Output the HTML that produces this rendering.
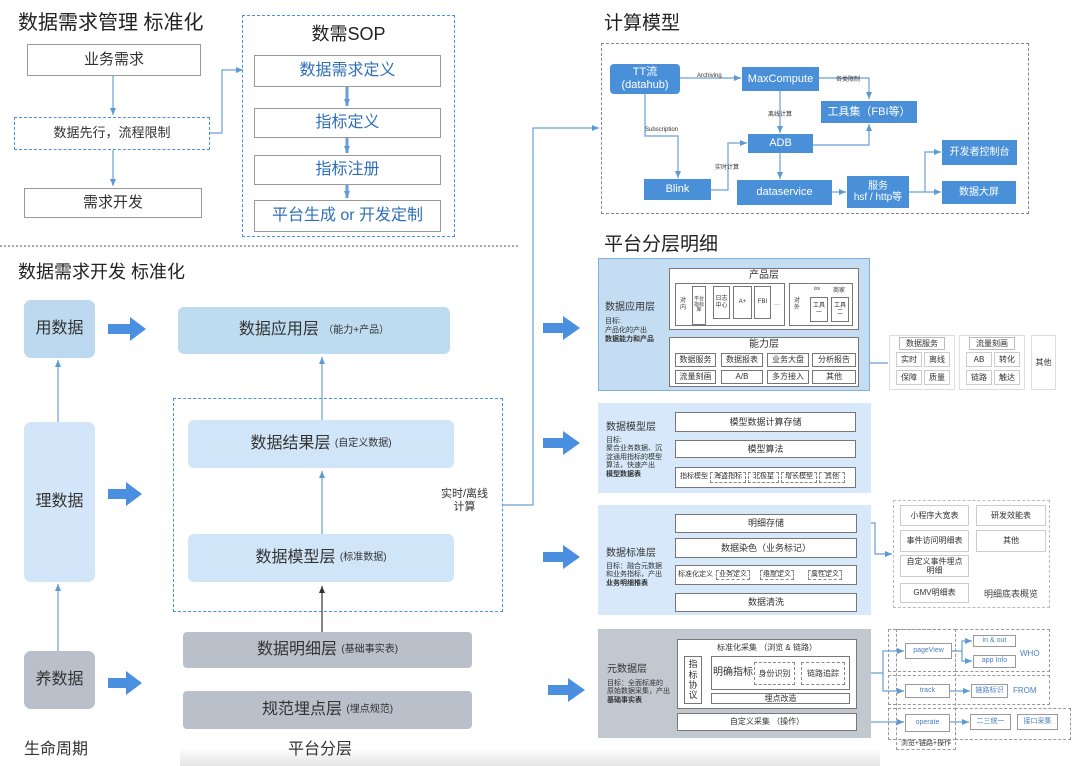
<!DOCTYPE html>
<html><head><meta charset="utf-8"><style>
*{margin:0;padding:0;box-sizing:border-box}
body{width:1080px;height:766px;background:#fff;position:relative;overflow:hidden;font-family:"Liberation Sans","Noto Sans CJK SC",sans-serif;color:#333}
.b{position:absolute;display:flex;align-items:center;justify-content:center;text-align:center;line-height:1.15}
.t{position:absolute;white-space:nowrap}
.g{border:1px solid #999;background:#fff}
.bl{background:#4a90d9;color:#fff;font-size:11px}
.w{background:#fff;border:1px solid #777;font-size:9px;color:#333}
.d{border:1px dashed #888}
svg{position:absolute;left:0;top:0}
</style></head><body>
<div style="position:absolute;left:180px;top:748px;width:700px;height:18px;background:linear-gradient(#fff,#e4e4e4);"></div>
<svg width="1080" height="766">
<defs>
<marker id="a" markerWidth="8" markerHeight="8" refX="7" refY="4" orient="auto" markerUnits="userSpaceOnUse"><path d="M0,1 L7,4 L0,7z" fill="#5b9bd5"/></marker>
<marker id="k" markerWidth="8" markerHeight="8" refX="7" refY="4" orient="auto" markerUnits="userSpaceOnUse"><path d="M0,1 L7,4 L0,7z" fill="#333"/></marker>
</defs>
<g stroke="#6a9fd8" stroke-width="1.2" fill="none">
<path d="M113 76V115" marker-end="url(#a)"/>
<path d="M113 150V186" marker-end="url(#a)"/>
<path d="M210 133H222V70H243" marker-end="url(#a)"/>
<path d="M347 87V106" stroke-width="3" marker-end="url(#a)"/>
<path d="M347 138V153" stroke-width="3" marker-end="url(#a)"/>
<path d="M347 185V198" stroke-width="3" marker-end="url(#a)"/>
<path d="M58 422V360" marker-end="url(#a)"/>
<path d="M58 651V584" marker-end="url(#a)"/>
<path d="M322 420V357" marker-end="url(#a)"/>
<path d="M322 534V471" marker-end="url(#a)"/>
<path d="M503 505H533V128H599" marker-end="url(#a)"/>
<path d="M680 78H741" marker-end="url(#a)"/>
<path d="M818 78H869V99" marker-end="url(#a)"/>
<path d="M780 91V133" marker-end="url(#a)"/>
<path d="M645 94V136H678V178" marker-end="url(#a)"/>
<path d="M711 190H728V143H747" marker-end="url(#a)"/>
<path d="M813 145H869V124" marker-end="url(#a)"/>
<path d="M780 153V179" marker-end="url(#a)"/>
<path d="M832 192H846" marker-end="url(#a)"/>
<path d="M909 192H925V152H941" marker-end="url(#a)"/>
<path d="M925 192H941" marker-end="url(#a)"/>
<path d="M888 363H862" marker-end="url(#a)"/>
<path d="M857 523H875V554H892" marker-end="url(#a)"/>
<path d="M850 673H883V651H904" marker-end="url(#a)"/>
<path d="M883 673V691H904" marker-end="url(#a)"/>
<path d="M857 722H904" marker-end="url(#a)"/>
<path d="M952 651H962V641H972" marker-end="url(#a)"/>
<path d="M962 651V661H972" marker-end="url(#a)"/>
<path d="M950 691H970" marker-end="url(#a)"/>
<path d="M950 722H969" marker-end="url(#a)"/>
</g>
<path d="M322 632V586" stroke="#333" stroke-width="1.2" marker-end="url(#k)"/>
<path d="M0 246H520" stroke="#555" stroke-dasharray="2,2"/>
<g fill="#4a8fe0">
<path d="M108 324H130V317L146 329L130 341V334H108z"/>
<path d="M108 489H126V482L142 494L126 506V499H108z"/>
<path d="M108 678H126V671L142 683L126 695V688H108z"/>
<path d="M543 323H563V316L580 328L563 340V333H543z"/>
<path d="M543 438H563V431L580 443L563 455V448H543z"/>
<path d="M543 552H563V545L580 557L563 569V562H543z"/>
<path d="M548 685H568V678L585 690L568 702V695H548z"/>
</g>
</svg>

<div class="t" style="left:18px;top:6px;font-size:20px;color:#222">数据需求管理 标准化</div>
<div class="b g" style="left:27px;top:44px;width:174px;height:32px;font-size:15px">业务需求</div>
<div class="b" style="left:14px;top:117px;width:196px;height:33px;border:1px dashed #4a8fe0;font-size:13px">数据先行，流程限制</div>
<div class="b g" style="left:24px;top:188px;width:178px;height:30px;font-size:15px">需求开发</div>
<div class="b" style="left:242px;top:15px;width:213px;height:222px;border:1px dashed #4a8fe0"></div>
<div class="t" style="left:242px;top:20px;width:213px;text-align:center;font-size:18px;color:#222">数需SOP</div>
<div class="b g" style="left:254px;top:55px;width:187px;height:32px;font-size:16px;color:#2f6fb8">数据需求定义</div>
<div class="b g" style="left:254px;top:108px;width:187px;height:30px;font-size:16px;color:#2f6fb8">指标定义</div>
<div class="b g" style="left:254px;top:155px;width:187px;height:30px;font-size:16px;color:#2f6fb8">指标注册</div>
<div class="b g" style="left:254px;top:200px;width:187px;height:32px;font-size:16px;color:#2f6fb8">平台生成 or 开发定制</div>

<div class="t" style="left:18px;top:258px;font-size:18px;color:#222">数据需求开发 标准化</div>
<div class="b" style="left:24px;top:300px;width:71px;height:58px;background:#bcd9ef;border-radius:7px;font-size:16px">用数据</div>
<div class="b" style="left:24px;top:422px;width:71px;height:160px;background:#d3e6f9;border-radius:7px;font-size:16px">理数据</div>
<div class="b" style="left:24px;top:651px;width:71px;height:58px;background:#b9c0ca;border-radius:7px;font-size:16px">养数据</div>
<div class="b" style="left:178px;top:307px;width:272px;height:47px;background:#bddcf0;border-radius:6px;font-size:16px">数据应用层&nbsp;<span style="font-size:10px">（能力+产品）</span></div>
<div class="b" style="left:173px;top:398px;width:330px;height:214px;border:1px dashed #4a8fe0"></div>
<div class="b" style="left:188px;top:420px;width:266px;height:48px;background:#d1e5f8;border-radius:6px;font-size:16px">数据结果层&nbsp;<span style="font-size:10px">(自定义数据)</span></div>
<div class="b" style="left:188px;top:534px;width:266px;height:48px;background:#d1e5f8;border-radius:6px;font-size:16px">数据模型层&nbsp;<span style="font-size:10px">(标准数据)</span></div>
<div class="b" style="left:183px;top:632px;width:289px;height:36px;background:#b9c0ca;border-radius:4px;font-size:16px">数据明细层&nbsp;<span style="font-size:10px">(基础事实表)</span></div>
<div class="b" style="left:183px;top:691px;width:289px;height:38px;background:#b9c0ca;border-radius:4px;font-size:16px">规范埋点层&nbsp;<span style="font-size:10px">(埋点规范)</span></div>
<div class="t" style="left:441px;top:488px;font-size:11px;text-align:center;line-height:1.2">实时/离线<br>计算</div>
<div class="t" style="left:24px;top:735px;font-size:16px">生命周期</div>
<div class="t" style="left:288px;top:735px;font-size:16px">平台分层</div>

<div class="t" style="left:604px;top:8px;font-size:19px;color:#222">计算模型</div>
<div class="b d" style="left:601px;top:43px;width:428px;height:171px"></div>
<div class="b bl" style="left:610px;top:64px;width:70px;height:30px;border-radius:4px">TT流<br>(datahub)</div>
<div class="b bl" style="left:742px;top:67px;width:77px;height:24px">MaxCompute</div>
<div class="b bl" style="left:821px;top:101px;width:96px;height:22px">工具集（FBI等）</div>
<div class="b bl" style="left:748px;top:134px;width:65px;height:19px">ADB</div>
<div class="b bl" style="left:644px;top:179px;width:67px;height:21px">Blink</div>
<div class="b bl" style="left:737px;top:180px;width:95px;height:25px">dataservice</div>
<div class="b bl" style="left:847px;top:176px;width:62px;height:32px;font-size:10px">服务<br>hsf / http等</div>
<div class="b bl" style="left:942px;top:140px;width:75px;height:25px;font-size:10px">开发者控制台</div>
<div class="b bl" style="left:942px;top:181px;width:74px;height:23px;font-size:10px">数据大屏</div>
<div class="t" style="left:697px;top:73px;font-size:6px">Archiving</div>
<div class="t" style="left:836px;top:74px;font-size:6px">各类限制</div>
<div class="t" style="left:768px;top:109px;font-size:6px">离线计算</div>
<div class="t" style="left:645px;top:127px;font-size:6px">Subscription</div>
<div class="t" style="left:715px;top:162px;font-size:6px">实时计算</div>

<div class="t" style="left:604px;top:229px;font-size:19px;color:#222">平台分层明细</div>
<div class="b" style="left:598px;top:258px;width:272px;height:133px;background:#c5ddf2;border:1px solid #7fb0dd"></div>
<div class="t" style="left:605px;top:298px;font-size:10px">数据应用层</div>
<div class="t" style="left:605px;top:318px;font-size:7px;line-height:1.25">目标:<br>产品化的产出<br><b>数据能力和产品</b></div>
<div class="b w" style="left:669px;top:268px;width:190px;height:62px;align-items:flex-start;font-size:10px;padding-top:1px">产品层</div>
<div class="b w" style="left:675px;top:283px;width:110px;height:43px;justify-content:flex-start;padding-left:4px;font-size:6px">对<br>内</div>
<div class="b w" style="left:692px;top:286px;width:14px;height:39px;font-size:5px">平台<br>指标<br>库</div>
<div class="b w" style="left:713px;top:286px;width:17px;height:33px;font-size:6px">日志<br>中心</div>
<div class="b w" style="left:733px;top:286px;width:19px;height:33px;font-size:6px">A+</div>
<div class="b w" style="left:754px;top:286px;width:17px;height:33px;font-size:6px">FBI</div>
<div class="t" style="left:774px;top:302px;font-size:6px">···</div>
<div class="b w" style="left:789px;top:283px;width:64px;height:43px;justify-content:flex-start;padding-left:4px;font-size:6px">对<br>外</div>
<div class="t" style="left:814px;top:286px;font-size:5px">isv</div>
<div class="t" style="left:833px;top:285px;font-size:6px">商家</div>
<div class="b w" style="left:810px;top:297px;width:18px;height:25px;font-size:6px">工具<br>一</div>
<div class="b w" style="left:831px;top:297px;width:18px;height:25px;font-size:6px">工具<br>二</div>
<div class="b w" style="left:669px;top:337px;width:190px;height:50px;align-items:flex-start;font-size:10px;padding-top:1px">能力层</div>
<div class="b w" style="left:675px;top:353px;width:41px;height:14px;font-size:8px">数据服务</div>
<div class="b w" style="left:721px;top:353px;width:42px;height:14px;font-size:8px">数据报表</div>
<div class="b w" style="left:767px;top:353px;width:42px;height:14px;font-size:8px">业务大盘</div>
<div class="b w" style="left:812px;top:353px;width:44px;height:14px;font-size:8px">分析报告</div>
<div class="b w" style="left:675px;top:370px;width:41px;height:14px;font-size:8px">流量刻画</div>
<div class="b w" style="left:721px;top:370px;width:42px;height:14px;font-size:8px">A/B</div>
<div class="b w" style="left:767px;top:370px;width:42px;height:14px;font-size:8px">多方接入</div>
<div class="b w" style="left:812px;top:370px;width:44px;height:14px;font-size:8px">其他</div>
<div class="b" style="left:889px;top:335px;width:66px;height:55px;border:1px solid #ddd"></div>
<div class="b w" style="left:899px;top:337px;width:46px;height:13px;border-color:#bbb;font-size:8px">数据服务</div>
<div class="b w" style="left:896px;top:352px;width:26px;height:15px;border-color:#ccc;font-size:8px">实时</div>
<div class="b w" style="left:924px;top:352px;width:26px;height:15px;border-color:#ccc;font-size:8px">离线</div>
<div class="b w" style="left:896px;top:370px;width:26px;height:15px;border-color:#ccc;font-size:8px">保障</div>
<div class="b w" style="left:924px;top:370px;width:26px;height:15px;border-color:#ccc;font-size:8px">质量</div>
<div class="b" style="left:959px;top:335px;width:66px;height:55px;border:1px solid #ddd"></div>
<div class="b w" style="left:969px;top:337px;width:46px;height:13px;border-color:#bbb;font-size:8px">流量刻画</div>
<div class="b w" style="left:966px;top:352px;width:26px;height:15px;border-color:#ccc;font-size:8px">AB</div>
<div class="b w" style="left:994px;top:352px;width:26px;height:15px;border-color:#ccc;font-size:8px">转化</div>
<div class="b w" style="left:966px;top:370px;width:26px;height:15px;border-color:#ccc;font-size:8px">链路</div>
<div class="b w" style="left:994px;top:370px;width:26px;height:15px;border-color:#ccc;font-size:8px">触达</div>
<div class="b w" style="left:1031px;top:335px;width:25px;height:55px;border-color:#ddd;font-size:8px">其他</div>
<div class="b" style="left:598px;top:403px;width:273px;height:90px;background:#d6e8fa"></div>
<div class="t" style="left:606px;top:418px;font-size:10px">数据模型层</div>
<div class="t" style="left:606px;top:437px;font-size:7px;line-height:1.2">目标:<br>聚合业务数据、沉<br>淀通用指标的模型<br>算法，快速产出<br><b>模型数据表</b></div>
<div class="b w" style="left:675px;top:412px;width:181px;height:20px">模型数据计算存储</div>
<div class="b w" style="left:675px;top:440px;width:181px;height:18px">模型算法</div>
<div class="b w" style="left:675px;top:467px;width:181px;height:21px;justify-content:flex-start;padding-left:4px;font-size:7px">指标模型 <span style="border:1px dashed #888;padding:0 3px;margin-left:2px">海盗指标</span><span style="border:1px dashed #888;padding:0 4px;margin-left:2px">北极星</span><span style="border:1px dashed #888;padding:0 3px;margin-left:2px">增长模型</span><span style="border:1px dashed #888;padding:0 5px;margin-left:2px">其他</span></div>
<div class="b" style="left:598px;top:505px;width:273px;height:110px;background:#d6e8fa"></div>
<div class="t" style="left:606px;top:544px;font-size:10px">数据标准层</div>
<div class="t" style="left:606px;top:563px;font-size:7px;line-height:1.2">目标：融合元数据<br>和业务指标，产出<br><b>业务明细推表</b></div>
<div class="b w" style="left:675px;top:514px;width:182px;height:19px">明细存储</div>
<div class="b w" style="left:675px;top:538px;width:182px;height:20px">数据染色（业务标记）</div>
<div class="b w" style="left:675px;top:565px;width:182px;height:20px;justify-content:flex-start;padding-left:2px;font-size:7px">标准化定义 <span style="border:1px dashed #888;padding:0 2px;margin-left:3px">业务定义</span><span style="border:1px dashed #888;padding:0 2px;margin-left:10px">维度定义</span><span style="border:1px dashed #888;padding:0 2px;margin-left:14px">属性定义</span></div>
<div class="b w" style="left:675px;top:593px;width:182px;height:19px">数据清洗</div>
<div class="b d" style="left:893px;top:500px;width:157px;height:108px;border-color:#bbb"></div>
<div class="b w" style="left:900px;top:505px;width:69px;height:21px;border-color:#ccc;font-size:8px">小程序大宽表</div>
<div class="b w" style="left:976px;top:505px;width:70px;height:21px;border-color:#ccc;font-size:8px">研发效能表</div>
<div class="b w" style="left:900px;top:530px;width:69px;height:22px;border-color:#ccc;font-size:8px">事件访问明细表</div>
<div class="b w" style="left:976px;top:530px;width:70px;height:22px;border-color:#ccc;font-size:8px">其他</div>
<div class="b w" style="left:900px;top:555px;width:69px;height:22px;border-color:#ccc;font-size:8px">自定义事件埋点<br>明细</div>
<div class="b w" style="left:900px;top:583px;width:69px;height:20px;border-color:#ccc;font-size:8px">GMV明细表</div>
<div class="t" style="left:984px;top:587px;font-size:9px;color:#444">明细底表概览</div>
<div class="b" style="left:598px;top:629px;width:273px;height:109px;background:#c2c8d0"></div>
<div class="t" style="left:607px;top:660px;font-size:10px">元数据层</div>
<div class="t" style="left:607px;top:680px;font-size:7px;line-height:1.2">目标：全面标准的<br>原始数据采集，产出<br><b>基础事实表</b></div>
<div class="b w" style="left:677px;top:639px;width:180px;height:70px;align-items:flex-start;padding-top:3px;font-size:8px">标准化采集 （浏览 &amp; 链路）</div>
<div class="b w" style="left:684px;top:656px;width:18px;height:48px;font-size:9px">指<br>标<br>协<br>议</div>
<div class="b w" style="left:711px;top:656px;width:139px;height:34px;justify-content:flex-start;padding-left:1px;font-size:10px">明确指标</div>
<div class="b" style="left:754px;top:662px;width:41px;height:23px;border:1px dashed #888;background:#fff;font-size:8px">身份识别</div>
<div class="b" style="left:801px;top:662px;width:44px;height:23px;border:1px dashed #888;background:#fff;font-size:8px">链路追踪</div>
<div class="b w" style="left:711px;top:693px;width:139px;height:11px;font-size:8px">埋点改造</div>
<div class="b w" style="left:677px;top:713px;width:180px;height:18px;font-size:8px">自定义采集 （操作）</div>
<div class="b d" style="left:888px;top:629px;width:68px;height:43px;border-color:#999"></div>
<div class="b d" style="left:955px;top:629px;width:95px;height:43px;border-color:#999"></div>
<div class="b d" style="left:888px;top:675px;width:162px;height:30px;border-color:#999"></div>
<div class="b d" style="left:888px;top:708px;width:68px;height:32px;border-color:#999"></div>
<div class="b d" style="left:955px;top:708px;width:116px;height:32px;border-color:#999"></div>
<div class="b d" style="left:896px;top:629px;width:60px;height:121px;border-color:#999;align-items:flex-end;font-size:7px;padding-bottom:1px">浏览+链路+操作</div>
<div class="b w" style="left:905px;top:643px;width:47px;height:16px;border-color:#999;color:#4a7fc0;font-size:7px">pageView</div>
<div class="b w" style="left:973px;top:635px;width:43px;height:12px;border-color:#999;color:#4a7fc0;font-size:7px">in &amp; out</div>
<div class="b w" style="left:973px;top:655px;width:43px;height:13px;border-color:#999;color:#4a7fc0;font-size:7px">app Info</div>
<div class="t" style="left:1020px;top:649px;font-size:8px;color:#4a7fc0">WHO</div>
<div class="b w" style="left:905px;top:684px;width:45px;height:14px;border-color:#999;color:#4a7fc0;font-size:7px">track</div>
<div class="b w" style="left:971px;top:684px;width:37px;height:14px;border-color:#999;color:#4a7fc0;font-size:7px">链路标识</div>
<div class="t" style="left:1013px;top:686px;font-size:8px;color:#4a7fc0">FROM</div>
<div class="b w" style="left:905px;top:714px;width:45px;height:18px;border-color:#999;color:#4a7fc0;font-size:7px">operate</div>
<div class="b w" style="left:970px;top:714px;width:41px;height:16px;border-color:#999;color:#4a7fc0;font-size:7px">二三统一</div>
<div class="b w" style="left:1017px;top:714px;width:41px;height:16px;border-color:#999;color:#4a7fc0;font-size:7px">接口采集</div>
</body></html>
